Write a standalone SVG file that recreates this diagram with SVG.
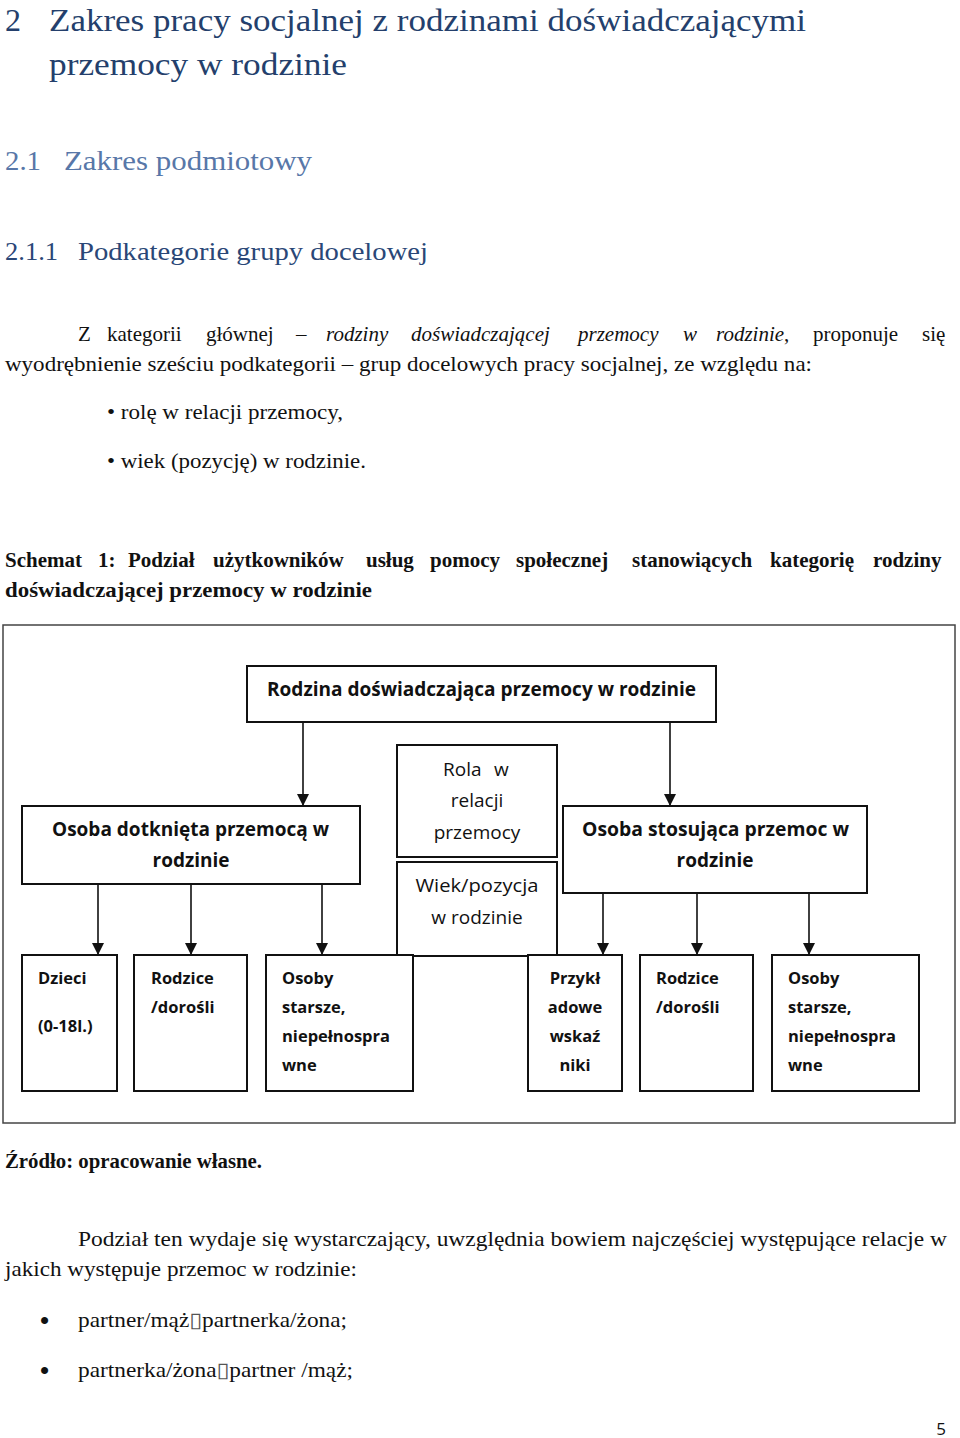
<svg xmlns="http://www.w3.org/2000/svg" width="960" height="1438" viewBox="0 0 960 1438">
<style>
.hd{font-family:"Liberation Serif",serif}
.h1{font-size:32px;fill:#243f6c}
.h2{font-size:28px;fill:#5877a8}
.h3{font-size:26px;fill:#2a4777}
.tx{font-family:"Liberation Serif",serif;font-size:21px;fill:#111}
.it{font-style:italic}
.b{font-weight:bold}
.frame{fill:none;stroke:#444;stroke-width:1.5}
.box{fill:#fff;stroke:#111;stroke-width:2}
.lbl{font-family:"Open Sans",sans-serif;font-size:19px;fill:#111}
.sm{font-family:"Open Sans",sans-serif;font-size:16.5px;font-weight:bold;fill:#111}
.c{text-anchor:middle}
.con{stroke:#111;stroke-width:1.6;fill:none;marker-end:url(#ah)}
.glyph{font-family:"DejaVu Sans",sans-serif;font-size:21px;fill:#555}
.bul{font-family:"Liberation Sans",sans-serif;font-size:26px;fill:#111}
</style>
<defs>
<marker id="ah" viewBox="0 0 12 12" refX="12" refY="6" markerWidth="12" markerHeight="12" markerUnits="userSpaceOnUse" orient="auto">
<path d="M0,0 L12,6 L0,12 z" fill="#111"/>
</marker>
</defs>
<rect width="960" height="1438" fill="#fff"/>

<!-- headings -->
<text class="hd h1" x="5" y="31">2</text>
<text class="hd h1" x="49" y="31" textLength="757" lengthAdjust="spacingAndGlyphs">Zakres pracy socjalnej z rodzinami doświadczającymi</text>
<text class="hd h1" x="49" y="75" textLength="298" lengthAdjust="spacingAndGlyphs">przemocy w rodzinie</text>
<text class="hd h2" x="5" y="170" textLength="36" lengthAdjust="spacingAndGlyphs">2.1</text>
<text class="hd h2" x="64" y="170" textLength="248" lengthAdjust="spacingAndGlyphs">Zakres podmiotowy</text>
<text class="hd h3" x="5" y="260" textLength="53" lengthAdjust="spacingAndGlyphs">2.1.1</text>
<text class="hd h3" x="78" y="260" textLength="350" lengthAdjust="spacingAndGlyphs">Podkategorie grupy docelowej</text>

<!-- paragraph -->
<text class="tx" y="341"><tspan x="78">Z</tspan><tspan x="107">kategorii</tspan><tspan x="206">głównej</tspan><tspan x="296">–</tspan><tspan x="326" class="it">rodziny</tspan><tspan x="411" class="it">doświadczającej</tspan><tspan x="578" class="it">przemocy</tspan><tspan x="683" class="it">w</tspan><tspan x="716" class="it">rodzinie</tspan><tspan>,</tspan><tspan x="813">proponuje</tspan><tspan x="922">się</tspan></text>
<text class="tx" x="5" y="371" textLength="807" lengthAdjust="spacingAndGlyphs">wyodrębnienie sześciu podkategorii – grup docelowych pracy socjalnej,  ze względu na:</text>
<text class="tx" x="107" y="419" textLength="236" lengthAdjust="spacingAndGlyphs">• rolę w relacji przemocy,</text>
<text class="tx" x="107" y="468" textLength="259" lengthAdjust="spacingAndGlyphs">• wiek (pozycję) w rodzinie.</text>

<!-- caption -->
<text class="tx b" y="567"><tspan x="5">Schemat</tspan><tspan x="98">1:</tspan><tspan x="128">Podział</tspan><tspan x="213">użytkowników</tspan><tspan x="366">usług</tspan><tspan x="430">pomocy</tspan><tspan x="516">społecznej</tspan><tspan x="632">stanowiących</tspan><tspan x="770">kategorię</tspan><tspan x="873">rodziny</tspan></text>
<text class="tx b" x="5" y="597" textLength="367" lengthAdjust="spacingAndGlyphs">doświadczającej przemocy w rodzinie</text>

<!-- diagram frame -->
<rect class="frame" x="3" y="625" width="952" height="498"/>

<g id="connectors">
<line class="con" x1="303" y1="722" x2="303" y2="806"/>
<line class="con" x1="670" y1="722" x2="670" y2="806"/>
<line class="con" x1="98" y1="884" x2="98" y2="955"/>
<line class="con" x1="191" y1="884" x2="191" y2="955"/>
<line class="con" x1="322" y1="884" x2="322" y2="955"/>
<line class="con" x1="603" y1="893" x2="603" y2="955"/>
<line class="con" x1="697" y1="893" x2="697" y2="955"/>
<line class="con" x1="809" y1="893" x2="809" y2="955"/>
</g>

<g id="root">
<rect class="box" x="247" y="666" width="469" height="56"/>
<text class="lbl b" x="267" y="696" textLength="429" lengthAdjust="spacingAndGlyphs">Rodzina doświadczająca przemocy w rodzinie</text>
</g>

<g id="victim">
<rect class="box" x="22" y="806" width="338" height="78"/>
<text class="lbl b" x="52" y="836" textLength="277" lengthAdjust="spacingAndGlyphs">Osoba dotknięta przemocą w</text>
<text class="lbl b c" x="191" y="867">rodzinie</text>
</g>

<g id="role">
<rect class="box" x="397" y="745" width="160" height="112"/>
<text class="lbl" y="776"><tspan x="443">Rola</tspan><tspan x="494">w</tspan></text>
<text class="lbl c" x="477" y="807">relacji</text>
<text class="lbl c" x="477" y="839">przemocy</text>
</g>

<g id="age">
<rect class="box" x="397" y="862" width="160" height="94"/>
<text class="lbl c" x="477" y="892" textLength="123" lengthAdjust="spacingAndGlyphs">Wiek/pozycja</text>
<text class="lbl c" x="477" y="924">w rodzinie</text>
</g>

<g id="perpetrator">
<rect class="box" x="563" y="806" width="304" height="87"/>
<text class="lbl b" x="582" y="836" textLength="267" lengthAdjust="spacingAndGlyphs">Osoba stosująca  przemoc w</text>
<text class="lbl b c" x="715" y="867">rodzinie</text>
</g>

<g id="v-children">
<rect class="box" x="22" y="955" width="95" height="136"/>
<text class="sm" x="38" y="984">Dzieci</text>
<text class="sm" x="38" y="1032">(0-18l.)</text>
</g>
<g id="v-parents">
<rect class="box" x="134" y="955" width="113" height="136"/>
<text class="sm" x="151" y="984">Rodzice</text>
<text class="sm" x="151" y="1013">/dorośli</text>
</g>
<g id="v-elderly">
<rect class="box" x="266" y="955" width="147" height="136"/>
<text class="sm" x="282" y="984">Osoby</text>
<text class="sm" x="282" y="1013">starsze,</text>
<text class="sm" x="282" y="1042">niepełnospra</text>
<text class="sm" x="282" y="1071">wne</text>
</g>
<g id="p-examples">
<rect class="box" x="528" y="955" width="94" height="136"/>
<text class="sm c" x="575" y="984">Przykł</text>
<text class="sm c" x="575" y="1013">adowe</text>
<text class="sm c" x="575" y="1042">wskaź</text>
<text class="sm c" x="575" y="1071">niki</text>
</g>
<g id="p-parents">
<rect class="box" x="640" y="955" width="113" height="136"/>
<text class="sm" x="656" y="984">Rodzice</text>
<text class="sm" x="656" y="1013">/dorośli</text>
</g>
<g id="p-elderly">
<rect class="box" x="772" y="955" width="147" height="136"/>
<text class="sm" x="788" y="984">Osoby</text>
<text class="sm" x="788" y="1013">starsze,</text>
<text class="sm" x="788" y="1042">niepełnospra</text>
<text class="sm" x="788" y="1071">wne</text>
</g>

<!-- source -->
<text class="tx b" x="5" y="1168" textLength="257" lengthAdjust="spacingAndGlyphs">Źródło: opracowanie własne.</text>

<!-- closing paragraph -->
<text class="tx" x="78" y="1246" textLength="869" lengthAdjust="spacingAndGlyphs">Podział ten wydaje się wystarczający, uwzględnia bowiem najczęściej występujące relacje w</text>
<text class="tx" x="5" y="1276" textLength="352" lengthAdjust="spacingAndGlyphs">jakich występuje  przemoc w rodzinie:</text>
<text class="bul" x="40" y="1329">•</text>
<text class="tx" x="78" y="1327" textLength="269" lengthAdjust="spacingAndGlyphs">partner/mąż<tspan class="glyph">▯</tspan>partnerka/żona;</text>
<text class="bul" x="40" y="1379">•</text>
<text class="tx" x="78" y="1377" textLength="275" lengthAdjust="spacingAndGlyphs">partnerka/żona<tspan class="glyph">▯</tspan>partner /mąż;</text>

<text x="946" y="1435" text-anchor="end" font-family="Open Sans, sans-serif" font-size="17" fill="#111">5</text>
</svg>
